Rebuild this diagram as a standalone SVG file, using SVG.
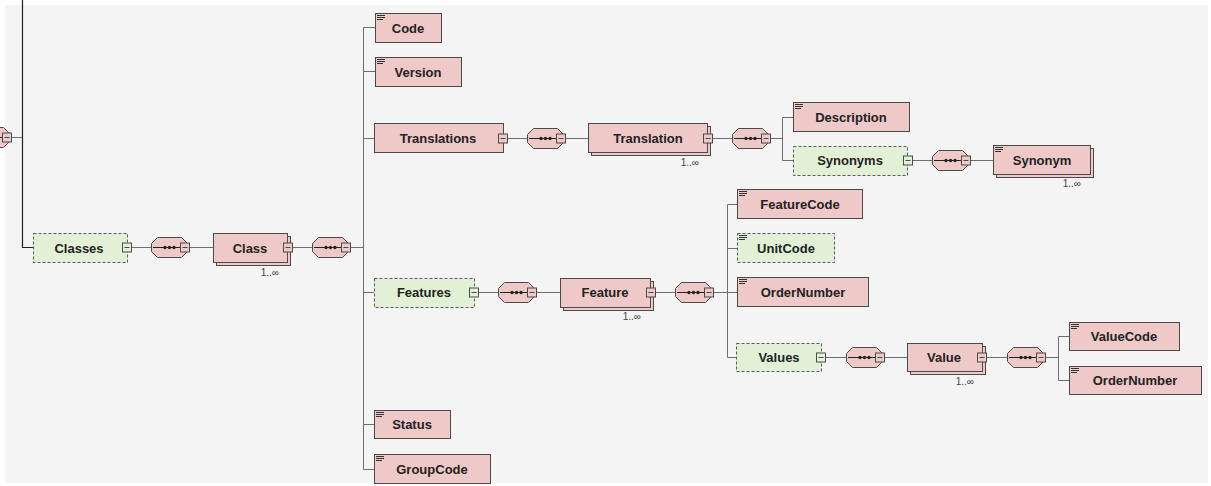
<svg xmlns="http://www.w3.org/2000/svg" width="1211" height="486" viewBox="0 0 1211 486">
<style>
  .bg{fill:#f4f4f4}
  .el{fill:#efc8c8;stroke:#4a4a4a;stroke-width:1}
  .opt{fill:#e2f0d6;stroke:#5a5a5a;stroke-width:1;stroke-dasharray:3,2}
  .sh{fill:#efc8c8;stroke:#4a4a4a;stroke-width:1}
  .lbl{font-family:"Liberation Sans",Arial,sans-serif;font-weight:bold;font-size:13px;fill:#222;text-anchor:middle}
  .card{font-family:"Liberation Sans",Arial,sans-serif;font-size:10px;fill:#444;text-anchor:end}
  .doc{stroke:#333;stroke-width:1}
  .mb{stroke:#4a4a4a;stroke-width:1}
  .mbp{fill:#efc8c8}
  .mbg{fill:#e2f0d6}
  .con{stroke:#6e6e6e;stroke-width:1;fill:none}
  .dark{stroke:#222;stroke-width:1.2;fill:none}
</style>
<defs>
  <g id="seq">
    <polygon points="0.5,6.5 6.5,0.5 30.5,0.5 36.5,6.5 36.5,14.5 30.5,20.5 6.5,20.5 0.5,14.5" class="el"/>
    <line x1="2" y1="10.5" x2="34" y2="10.5" stroke="#222" stroke-width="1"/>
    <circle cx="14" cy="10.5" r="1.7" fill="#222"/>
    <circle cx="18.5" cy="10.5" r="1.7" fill="#222"/>
    <circle cx="23" cy="10.5" r="1.7" fill="#222"/>
    <rect x="29.5" y="6" width="9" height="9" class="mb mbp"/>
    <line x1="31.5" y1="10.5" x2="36.5" y2="10.5" class="mb"/>
  </g>
  <g id="docic">
    <line x1="2" y1="2.5" x2="10" y2="2.5" class="doc"/>
    <line x1="2" y1="4.5" x2="10" y2="4.5" class="doc"/>
    <line x1="2" y1="6.5" x2="8" y2="6.5" class="doc"/>
  </g>
  <g id="minusP">
    <rect x="0.5" y="0.5" width="9" height="9" class="mb mbp"/>
    <line x1="2.5" y1="5" x2="7.5" y2="5" class="mb"/>
  </g>
  <g id="minusG">
    <rect x="0.5" y="0.5" width="9" height="9" class="mb mbg"/>
    <line x1="2.5" y1="5" x2="7.5" y2="5" class="mb"/>
  </g>
</defs>

<rect x="5" y="5" width="1203" height="478" class="bg"/>

<g id="connectors">
  <!-- left incoming -->
  <line x1="11" y1="137.5" x2="22.5" y2="137.5" class="con"/>
  <polyline points="22.5,0 22.5,247.5 33,247.5" class="dark"/>
  <!-- Classes row -->
  <line x1="131" y1="247.5" x2="151" y2="247.5" class="con"/>
  <line x1="190" y1="247.5" x2="213" y2="247.5" class="con"/>
  <line x1="292" y1="247.5" x2="312" y2="247.5" class="con"/>
  <line x1="351" y1="247.5" x2="363.5" y2="247.5" class="con"/>
  <!-- main vertical -->
  <line x1="363.5" y1="27.5" x2="363.5" y2="469.5" class="con"/>
  <line x1="363.5" y1="27.5" x2="375" y2="27.5" class="con"/>
  <line x1="363.5" y1="71.5" x2="375" y2="71.5" class="con"/>
  <line x1="363.5" y1="138.5" x2="374" y2="138.5" class="con"/>
  <line x1="363.5" y1="292.5" x2="374" y2="292.5" class="con"/>
  <line x1="363.5" y1="424.5" x2="374" y2="424.5" class="con"/>
  <line x1="363.5" y1="469.5" x2="374" y2="469.5" class="con"/>
  <!-- Translations row -->
  <line x1="508" y1="138.5" x2="527" y2="138.5" class="con"/>
  <line x1="566" y1="138.5" x2="588" y2="138.5" class="con"/>
  <line x1="712" y1="138.5" x2="732" y2="138.5" class="con"/>
  <line x1="771" y1="138.5" x2="782.5" y2="138.5" class="con"/>
  <polyline points="793,117.5 782.5,117.5 782.5,160.5 793,160.5" class="con"/>
  <!-- Synonyms row -->
  <line x1="912" y1="160.5" x2="932" y2="160.5" class="con"/>
  <line x1="971" y1="160.5" x2="993" y2="160.5" class="con"/>
  <!-- Features row -->
  <line x1="479" y1="292.5" x2="498" y2="292.5" class="con"/>
  <line x1="537" y1="292.5" x2="560" y2="292.5" class="con"/>
  <line x1="655" y1="292.5" x2="675" y2="292.5" class="con"/>
  <line x1="714" y1="292.5" x2="737" y2="292.5" class="con"/>
  <polyline points="737,204.5 727.5,204.5 727.5,357.5 736,357.5" class="con"/>
  <line x1="727.5" y1="248.5" x2="737" y2="248.5" class="con"/>
  <!-- Values row -->
  <line x1="826" y1="357.5" x2="846" y2="357.5" class="con"/>
  <line x1="885" y1="357.5" x2="907" y2="357.5" class="con"/>
  <line x1="987" y1="357.5" x2="1007" y2="357.5" class="con"/>
  <line x1="1046" y1="357.5" x2="1058.5" y2="357.5" class="con"/>
  <polyline points="1069,336.5 1058.5,336.5 1058.5,380.5 1069,380.5" class="con"/>
</g>

<g id="sequences">
  <use href="#seq" x="-27" y="127"/>
  <use href="#seq" x="151" y="237"/>
  <use href="#seq" x="312" y="237"/>
  <use href="#seq" x="527" y="128"/>
  <use href="#seq" x="732" y="128"/>
  <use href="#seq" x="932" y="150"/>
  <use href="#seq" x="498" y="282"/>
  <use href="#seq" x="675" y="282"/>
  <use href="#seq" x="846" y="347"/>
  <use href="#seq" x="1007" y="347"/>
</g>

<g id="n-code">
  <rect x="375.5" y="13.5" width="66" height="29" class="el"/>
  <use href="#docic" x="375" y="13"/>
  <text x="408" y="32.5" class="lbl">Code</text>
</g>
<g id="n-version">
  <rect x="375.5" y="57.5" width="86" height="29" class="el"/>
  <use href="#docic" x="375" y="57"/>
  <text x="418" y="76.5" class="lbl">Version</text>
</g>
<g id="n-translations">
  <rect x="374.5" y="123.5" width="129" height="29" class="el"/>
  <text x="438" y="142.5" class="lbl">Translations</text>
  <use href="#minusP" x="498" y="133.5"/>
</g>
<g id="n-translation">
  <rect x="591.5" y="126.5" width="119" height="29" class="sh"/>
  <rect x="588.5" y="123.5" width="119" height="29" class="el"/>
  <text x="648" y="142.5" class="lbl">Translation</text>
  <use href="#minusP" x="703" y="133.5"/>
  <text x="699" y="166" class="card">1..∞</text>
</g>
<g id="n-description">
  <rect x="793.5" y="102.5" width="116" height="29" class="el"/>
  <use href="#docic" x="793" y="102"/>
  <text x="851" y="121.5" class="lbl">Description</text>
</g>
<g id="n-synonyms">
  <rect x="793.5" y="146.5" width="114" height="29" class="opt"/>
  <text x="850" y="165" class="lbl">Synonyms</text>
  <use href="#minusG" x="903" y="155.5"/>
</g>
<g id="n-synonym">
  <rect x="996.5" y="148.5" width="97" height="29" class="sh"/>
  <rect x="993.5" y="145.5" width="97" height="29" class="el"/>
  <use href="#docic" x="993" y="145"/>
  <text x="1042" y="164.5" class="lbl">Synonym</text>
  <text x="1081" y="187" class="card">1..∞</text>
</g>
<g id="n-classes">
  <rect x="33.5" y="233.5" width="94" height="29" class="opt"/>
  <text x="79" y="252.5" class="lbl">Classes</text>
  <use href="#minusG" x="122" y="242.5"/>
</g>
<g id="n-class">
  <rect x="216.5" y="236.5" width="74" height="29" class="sh"/>
  <rect x="213.5" y="233.5" width="74" height="29" class="el"/>
  <text x="250" y="252.5" class="lbl">Class</text>
  <use href="#minusP" x="283" y="242.5"/>
  <text x="279" y="276" class="card">1..∞</text>
</g>
<g id="n-features">
  <rect x="374.5" y="278.5" width="100" height="29" class="opt"/>
  <text x="424" y="297" class="lbl">Features</text>
  <use href="#minusG" x="469" y="287.5"/>
</g>
<g id="n-feature">
  <rect x="563.5" y="281.5" width="90" height="29" class="sh"/>
  <rect x="560.5" y="278.5" width="90" height="29" class="el"/>
  <text x="605" y="297" class="lbl">Feature</text>
  <use href="#minusP" x="646" y="287.5"/>
  <text x="641" y="320" class="card">1..∞</text>
</g>
<g id="n-featurecode">
  <rect x="737.5" y="189.5" width="125" height="29" class="el"/>
  <use href="#docic" x="737" y="189"/>
  <text x="800" y="208.5" class="lbl">FeatureCode</text>
</g>
<g id="n-unitcode">
  <rect x="737.5" y="233.5" width="97" height="29" class="opt"/>
  <use href="#docic" x="737" y="233"/>
  <text x="786" y="252.5" class="lbl">UnitCode</text>
</g>
<g id="n-ordernumber">
  <rect x="737.5" y="277.5" width="131" height="29" class="el"/>
  <use href="#docic" x="737" y="277"/>
  <text x="803" y="296.5" class="lbl">OrderNumber</text>
</g>
<g id="n-values">
  <rect x="736.5" y="343.5" width="85" height="28" class="opt"/>
  <text x="779" y="362" class="lbl">Values</text>
  <use href="#minusG" x="816" y="352.5"/>
</g>
<g id="n-value">
  <rect x="910.5" y="346.5" width="75" height="28" class="sh"/>
  <rect x="907.5" y="343.5" width="75" height="28" class="el"/>
  <text x="944" y="362" class="lbl">Value</text>
  <use href="#minusP" x="977" y="352.5"/>
  <text x="974" y="385" class="card">1..∞</text>
</g>
<g id="n-valuecode">
  <rect x="1069.5" y="322.5" width="110" height="28" class="el"/>
  <use href="#docic" x="1069" y="322"/>
  <text x="1124" y="341" class="lbl">ValueCode</text>
</g>
<g id="n-ordernumber2">
  <rect x="1069.5" y="366.5" width="132" height="28" class="el"/>
  <use href="#docic" x="1069" y="366"/>
  <text x="1135" y="385" class="lbl">OrderNumber</text>
</g>
<g id="n-status">
  <rect x="374.5" y="410.5" width="76" height="28" class="el"/>
  <use href="#docic" x="374" y="410"/>
  <text x="412" y="429" class="lbl">Status</text>
</g>
<g id="n-groupcode">
  <rect x="374.5" y="454.5" width="116" height="29" class="el"/>
  <use href="#docic" x="374" y="454"/>
  <text x="432" y="473.5" class="lbl">GroupCode</text>
</g>
</svg>
